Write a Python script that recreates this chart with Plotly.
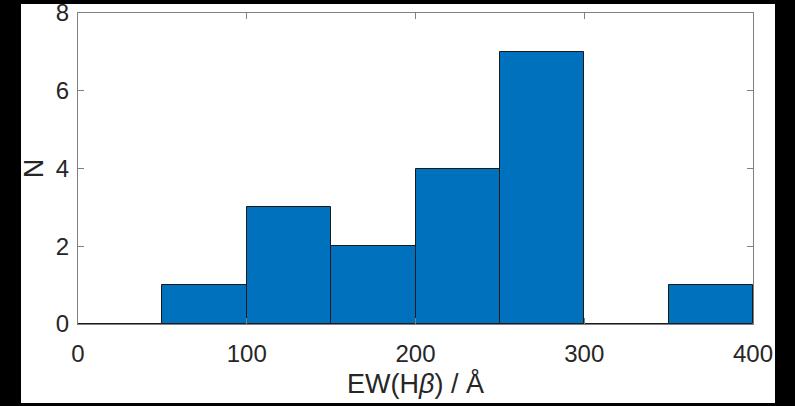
import plotly.graph_objects as go

bin_left = [0, 50, 100, 150, 200, 250, 300, 350]
bin_width = 50
counts = [0, 1, 3, 2, 4, 7, 0, 1]
x_ticks = [0, 100, 200, 300, 400]
y_ticks = [0, 2, 4, 6, 8]

centers = [b + bin_width / 2 for b in bin_left]

fig = go.Figure()
fig.add_trace(go.Bar(
    x=centers, y=counts, width=[bin_width] * len(counts),
    marker=dict(color="#0072BD", line=dict(color="#1a1a1a", width=1)),
    showlegend=False,
))

axis_common = dict(
    showline=True, linecolor="#808080", linewidth=1, mirror="ticks",
    ticks="inside", ticklen=6, tickcolor="#808080", showgrid=False, zeroline=False,
    automargin=False, ticklabeloverflow="allow",
    tickfont=dict(family="Liberation Sans, Arial", size=24, color="#262626"),
)

fig.update_layout(
    width=795, height=406,
    margin=dict(l=78, r=42, t=13, b=82, autoexpand=False),
    paper_bgcolor="black", plot_bgcolor="white",
    bargap=0,
    font=dict(family="Liberation Sans, Arial", color="#262626"),
    xaxis=dict(range=[0, 400], tickvals=x_ticks, ticklabelstandoff=8,
               title=dict(text="EW(H<i>β</i>) / Å", font=dict(size=27), standoff=8),
               **axis_common),
    yaxis=dict(range=[0, 8], tickvals=y_ticks, ticklabelstandoff=3,
               title=dict(text="N", font=dict(size=27), standoff=4),
               **axis_common),
    shapes=[dict(type="rect", xref="paper", yref="paper",
                 x0=-57 / 675, x1=(775 - 78) / 675,
                 y0=-(403 - 324) / 311, y1=(324 - 4) / 311,
                 fillcolor="white", line=dict(width=0), layer="below")],
)

fig.write_html("out.html")
